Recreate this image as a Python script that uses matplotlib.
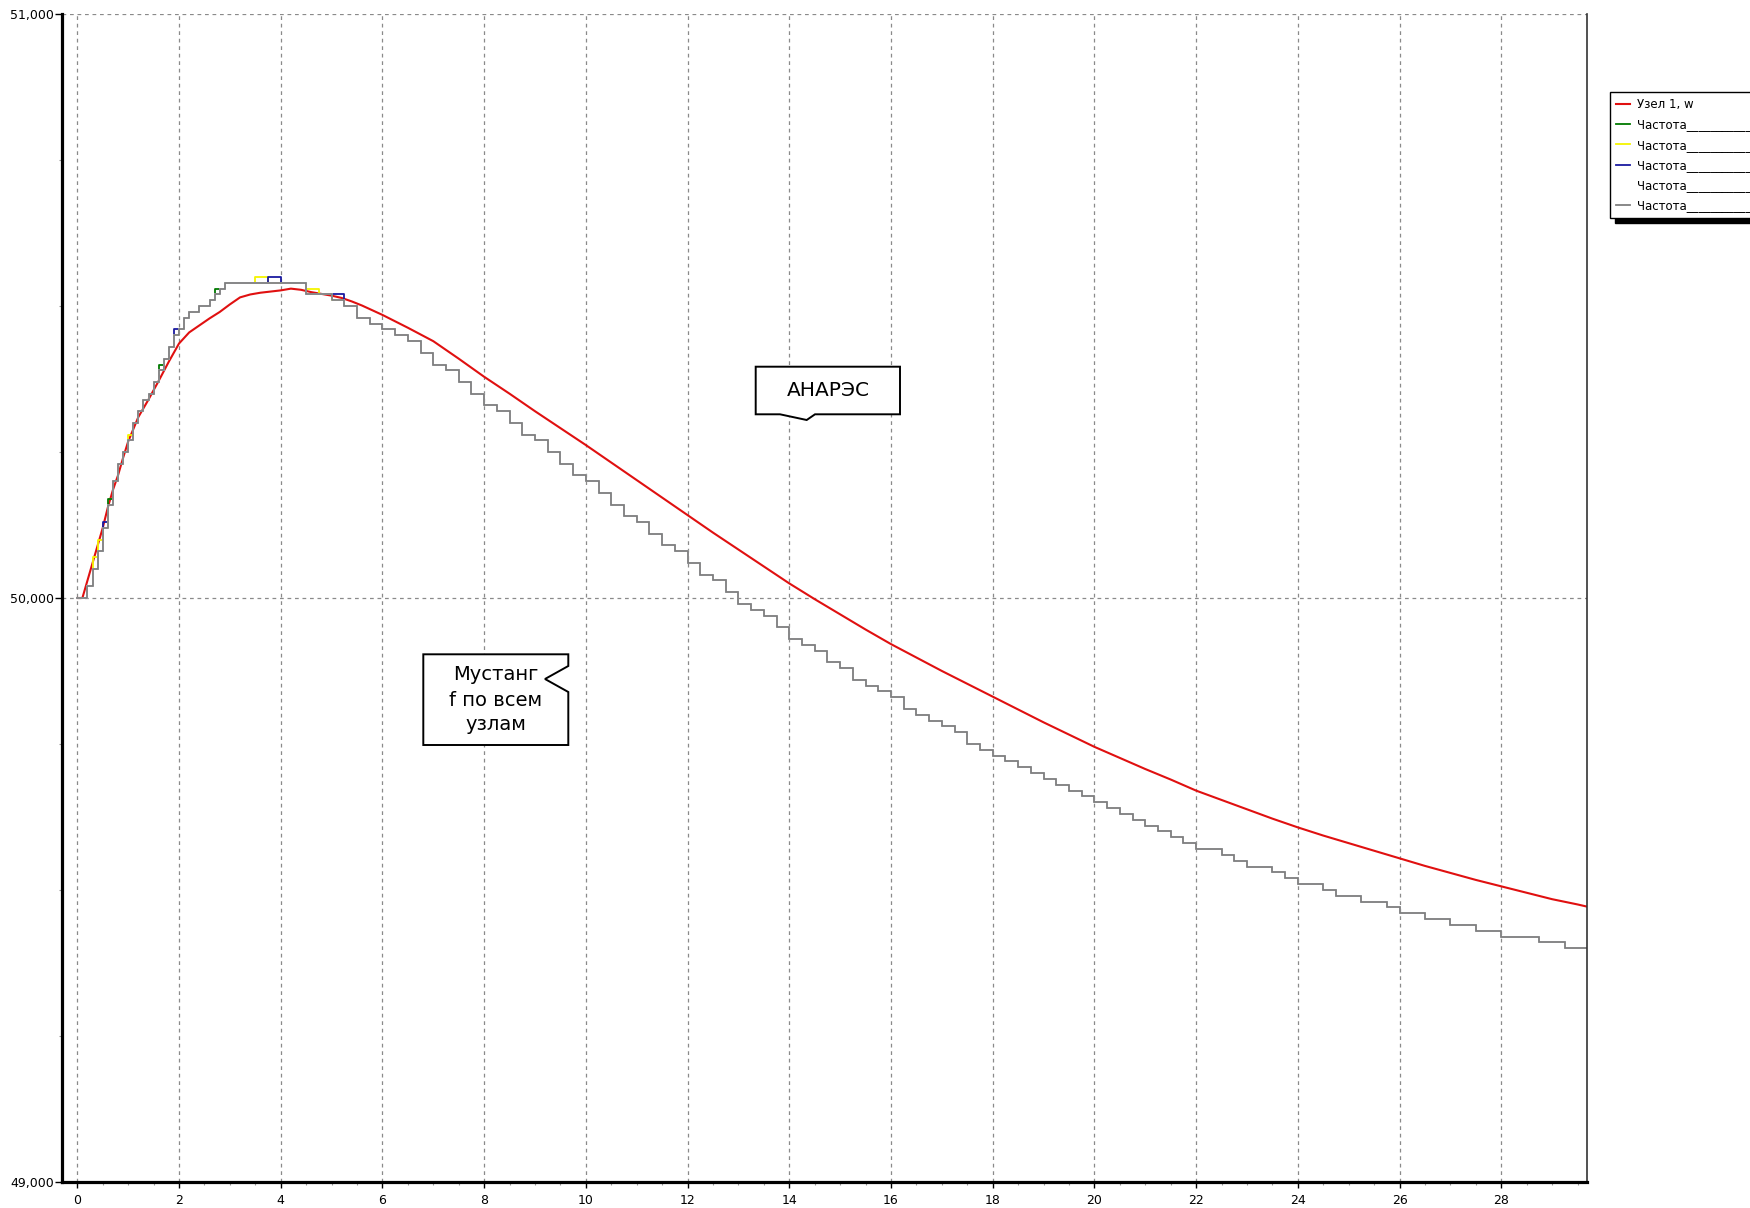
import numpy as np
import matplotlib.pyplot as plt
from matplotlib.patches import Polygon
from matplotlib.ticker import MultipleLocator, FuncFormatter

# Узел 1, w — расчет АНАРЭС (плавная кривая)
red_t = [0.0, 0.1, 0.2, 0.3, 0.4, 0.5, 0.6, 0.7, 0.8, 0.9, 1.0,
         1.2, 1.4, 1.6, 1.8, 2.0, 2.2, 2.4, 2.6, 2.8, 3.0, 3.2, 3.4, 3.6, 3.8,
         4.0, 4.2, 4.4, 4.6, 4.8, 5.0, 5.2, 5.4, 5.6, 5.8, 6.0,
         6.5, 7.0, 7.5, 8.0, 8.5, 9.0, 9.5, 10.0, 10.5, 11.0, 11.5, 12.0,
         12.5, 13.0, 13.5, 14.0, 14.5, 15.0, 15.5, 16.0, 16.5, 17.0, 17.5, 18.0,
         18.5, 19.0, 19.5, 20.0, 20.5, 21.0, 21.5, 22.0, 22.5, 23.0, 23.5, 24.0,
         24.5, 25.0, 25.5, 26.0, 26.5, 27.0, 27.5, 28.0, 28.5, 29.0, 29.5, 29.75]
red_f = [50.000, 50.000, 50.030, 50.060, 50.090, 50.120, 50.155, 50.185, 50.210, 50.240, 50.268,
         50.310, 50.340, 50.372, 50.405, 50.436, 50.455, 50.467, 50.479, 50.490, 50.503,
         50.515, 50.520, 50.523, 50.525, 50.527, 50.530, 50.528, 50.524, 50.521, 50.518,
         50.514, 50.508, 50.501, 50.493, 50.485,
         50.463, 50.440, 50.410, 50.379, 50.350, 50.320, 50.291, 50.262, 50.232, 50.202,
         50.172, 50.142, 50.112, 50.083, 50.054, 50.025, 49.998, 49.972, 49.946, 49.921,
         49.898, 49.875, 49.853, 49.831, 49.809, 49.787, 49.766, 49.745, 49.726, 49.707,
         49.689, 49.670, 49.654, 49.638, 49.622, 49.607, 49.593, 49.580, 49.567, 49.554,
         49.541, 49.529, 49.517, 49.506, 49.495, 49.484, 49.475, 49.470]

# Частота по узлам — расчет Мустанг, запись с дискретностью 0.01 Гц
step_t = np.round(np.concatenate([np.arange(0, 3.05, 0.1),
                                  np.arange(3.25, 29.8, 0.25)]), 2)
gray_f = [50.00, 50.00, 50.02, 50.05, 50.08, 50.12, 50.16, 50.20, 50.23, 50.25,
          50.27, 50.30, 50.32, 50.34, 50.35, 50.37, 50.39, 50.41, 50.43, 50.45,
          50.46, 50.48, 50.49, 50.49, 50.50, 50.50, 50.51, 50.52, 50.53, 50.54,
          50.54,
          50.54, 50.54, 50.54,
          50.54, 50.54, 50.52, 50.52,
          50.51, 50.50, 50.48, 50.47,
          50.46, 50.45, 50.44, 50.42,
          50.40, 50.39, 50.37, 50.35,
          50.33, 50.32, 50.30, 50.28,
          50.27, 50.25, 50.23, 50.21,
          50.20, 50.18, 50.16, 50.14,
          50.13, 50.11, 50.09, 50.08,
          50.06, 50.04, 50.03, 50.01,
          49.99, 49.98, 49.97, 49.95,
          49.93, 49.92, 49.91, 49.89,
          49.88, 49.86, 49.85, 49.84,
          49.83, 49.81, 49.80, 49.79,
          49.78, 49.77, 49.75, 49.74,
          49.73, 49.72, 49.71, 49.70,
          49.69, 49.68, 49.67, 49.66,
          49.65, 49.64, 49.63, 49.62,
          49.61, 49.60, 49.59, 49.58,
          49.57, 49.57, 49.56, 49.55,
          49.54, 49.54, 49.53, 49.52,
          49.51, 49.51, 49.50, 49.49,
          49.49, 49.48, 49.48, 49.47,
          49.46, 49.46, 49.45, 49.45,
          49.44, 49.44, 49.43, 49.43,
          49.42, 49.42, 49.42, 49.41,
          49.41, 49.40, 49.40, 49.40]

# отличия остальных узлов от общей записи (время -> частота)
green_diff = {0.6: 50.17, 1.6: 50.40, 2.7: 50.53}
yellow_diff = {0.3: 50.07, 0.4: 50.10, 1.0: 50.28, 3.5: 50.55, 4.5: 50.53}
blue_diff = {0.5: 50.13, 1.9: 50.46, 3.75: 50.55, 5.0: 50.52}

series_labels = ["Узел 1, w"] + ["Частота" + "_" * 14] * 5


def node_series(diff):
    vals = np.array(gray_f, dtype=float)
    for t, v in diff.items():
        vals[np.isclose(step_t, t)] = v
    return vals


W, H = 1750, 1208


def px(x, y):
    return (x / W, 1 - y / H)


fig = plt.figure(figsize=(W / 100, H / 100), dpi=100)
fig.patch.set_facecolor("white")
ax = fig.add_axes([62.3 / W, 1 - 1181.7 / H, (1586.7 - 62.3) / W, (1181.7 - 14.3) / H])

lines = []
lines += ax.plot(red_t, red_f, color="#e01010", lw=1.5)
lines += ax.plot(step_t, node_series(green_diff), color="#007a00", lw=1.3, drawstyle="steps-post")
lines += ax.plot(step_t, node_series(yellow_diff), color="#f5f500", lw=1.3, drawstyle="steps-post")
lines += ax.plot(step_t, node_series(blue_diff), color="#1a1aa0", lw=1.3, drawstyle="steps-post")
lines += ax.plot(step_t, gray_f, color="white", lw=1.3, drawstyle="steps-post")
lines += ax.plot(step_t, gray_f, color="#7f7f7f", lw=1.3, drawstyle="steps-post")

ax.set_xlim(-0.295, 29.68)
ax.set_ylim(49.0, 51.0)
ax.xaxis.set_major_locator(MultipleLocator(2))
ax.xaxis.set_minor_locator(MultipleLocator(0.5))
ax.yaxis.set_major_locator(MultipleLocator(1))
ax.yaxis.set_minor_locator(MultipleLocator(0.25))
ax.yaxis.set_major_formatter(FuncFormatter(lambda v, _: f"{v:.3f}".replace(".", ",")))
ax.xaxis.set_major_formatter(FuncFormatter(lambda v, _: f"{v:.0f}"))

ax.tick_params(axis="x", which="major", length=4, width=1, pad=5, labelsize=9)
ax.tick_params(axis="x", which="minor", length=2.5, width=0.8, color="#999999")
ax.tick_params(axis="y", which="major", length=5, width=1, pad=1, labelsize=9)
ax.tick_params(axis="y", which="minor", length=2.5, width=0.8, color="#999999")

ax.grid(which="major", color="#8a8a8a", linestyle=(0, (3, 3)), linewidth=0.9)
ax.set_axisbelow(True)

ax.spines["top"].set_visible(False)
ax.spines["left"].set_linewidth(2.3)
ax.spines["bottom"].set_linewidth(2.3)
ax.spines["right"].set_linewidth(1.2)
ax.spines["right"].set_color("#333333")

# легенда справа, частично уходит за край
fig.legend(lines, series_labels, loc="upper left",
           bbox_to_anchor=px(1610, 92), bbox_transform=fig.transFigure,
           fontsize=8.5, frameon=True, fancybox=False, edgecolor="black",
           framealpha=1, borderaxespad=0, borderpad=0.5,
           handlelength=1.2, handletextpad=0.6, labelspacing=0.62,
           shadow={"ox": 3.5, "oy": -3, "color": "black", "alpha": 1})

# выноски
anares = [(755.7, 366.7), (900, 366.7), (900, 414.3), (815, 414.3),
          (806.7, 420), (780, 414.3), (755.7, 414.3)]
mustang = [(423.3, 654.3), (568.3, 654.3), (568.3, 666), (545, 679),
           (568.3, 692), (568.3, 745), (423.3, 745)]
for shape in (anares, mustang):
    fig.add_artist(Polygon([px(x, y) for x, y in shape], closed=True,
                           facecolor="white", edgecolor="black", lw=1.4,
                           transform=fig.transFigure, zorder=5))

fig.text(*px(828, 391), "АНАРЭС", ha="center", va="center", fontsize=14.5, zorder=6)
fig.text(*px(495.5, 700), "Мустанг\nf по всем\nузлам", ha="center", va="center",
         fontsize=14, linespacing=1.4, zorder=6)

fig.savefig("out.png", dpi=100)
